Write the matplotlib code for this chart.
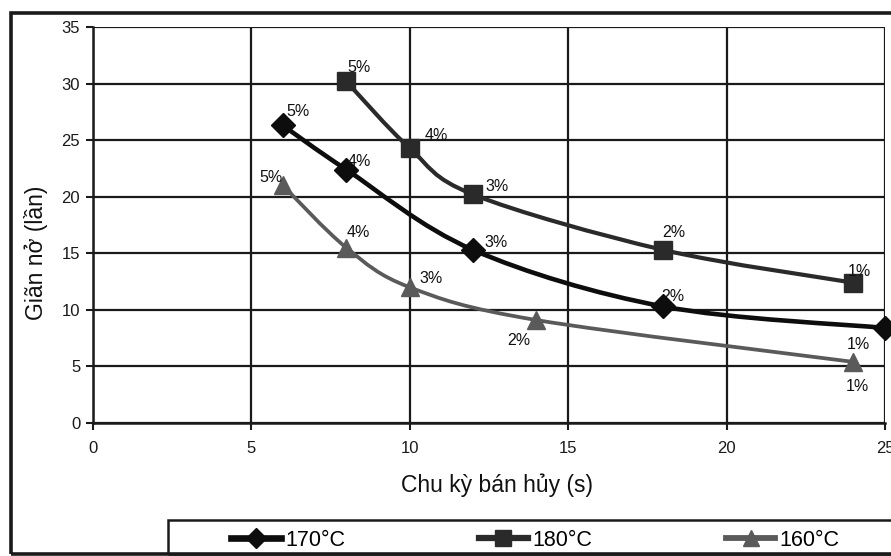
import matplotlib
matplotlib.use('Agg')
import matplotlib.pyplot as plt
import numpy as np
from matplotlib.path import Path
from matplotlib.patches import PathPatch, Rectangle
from matplotlib.lines import Line2D

plt.rcParams['font.family'] = ['Liberation Sans', 'DejaVu Sans']

# du lieu doc tu hinh
x_170 = [6, 8, 12, 18, 25]
y_170 = [26.3, 22.4, 15.3, 10.3, 8.4]
x_180 = [8, 10, 12, 18, 24]
y_180 = [30.2, 24.3, 20.2, 15.3, 12.4]
x_160 = [6, 8, 10, 14, 24]
y_160 = [21.0, 15.5, 12.0, 9.1, 5.4]
pct_labels = ['5%', '4%', '3%', '2%', '1%']
series_names = ['170°C', '180°C', '160°C']

# vi tri nhan (pixel) so voi diem
off_170 = [(15, 14), (13, 8), (23, 7), (10, 10), (-27, -17)]
off_180 = [(13, 14), (27, 13), (24, 8), (11, 17), (6, 11)]
off_160 = [(-12, 8), (12, 15), (21, 9), (-18, -20), (4, -25)]


def smooth_path(xs, ys):
    # duong cong Catmull-Rom qua cac diem (kieu "smooth line" cua Excel)
    p = np.column_stack([xs, ys]).astype(float)
    pts = np.vstack([p[0], p, p[-1]])
    verts = [tuple(p[0])]
    codes = [Path.MOVETO]
    for i in range(1, len(pts) - 2):
        c1 = pts[i] + (pts[i + 1] - pts[i - 1]) / 6.0
        c2 = pts[i + 1] - (pts[i + 2] - pts[i]) / 6.0
        verts += [tuple(c1), tuple(c2), tuple(pts[i + 1])]
        codes += [Path.CURVE4] * 3
    return Path(verts, codes)


fig = plt.figure(figsize=(8.91, 5.56), dpi=100)
ax = fig.add_axes([92.7 / 891, 1 - 423 / 556, (885 - 92.7) / 891, (423 - 27) / 556])

series = [
    (x_170, y_170, 'D', 12, '#0d0d0d', 3.3, off_170),
    (x_180, y_180, 's', 13, '#2a2a2a', 3.0, off_180),
    (x_160, y_160, '^', 13, '#5a5a5a', 2.7, off_160),
]
handles = []
for (xs, ys, mk, ms, col, lw, offs), name in zip(series, series_names):
    ax.add_patch(PathPatch(smooth_path(xs, ys), facecolor='none', edgecolor=col,
                           lw=lw, zorder=3, clip_on=False))
    ax.plot(xs, ys, linestyle='none', marker=mk, markersize=ms, color=col,
            zorder=4, clip_on=False)
    for xv, yv, lab, (dx, dy) in zip(xs, ys, pct_labels, offs):
        ax.annotate(lab, (xv, yv), xytext=(dx, dy), textcoords='offset pixels',
                    ha='center', va='center', fontsize=11.5, color='#111111', zorder=5)
    handles.append(Line2D([], [], color=col, lw=lw + 1.5, marker=mk, markersize=ms - 2))

ax.set_xlim(0, 25)
ax.set_ylim(0, 35)
ax.set_xticks(np.arange(0, 26, 5))
ax.set_yticks(np.arange(0, 36, 5))
ax.grid(True, color='#1a1a1a', lw=1.6)
ax.set_axisbelow(True)
for s in ['top', 'right']:
    ax.spines[s].set_visible(False)
for s in ['left', 'bottom']:
    ax.spines[s].set_linewidth(1.8)
    ax.spines[s].set_color('#1a1a1a')
ax.tick_params(axis='both', direction='out', length=5, width=1.5, labelsize=12,
               colors='#1a1a1a', pad=4)
ax.tick_params(axis='x', pad=8)
ax.set_xlabel('Chu kỳ bán hủy (s)', fontsize=16.5, color='#111111')
ax.set_ylabel('Giãn nở (lần)', fontsize=16.5, color='#111111')
ax.xaxis.set_label_coords(0.51, -0.128)
ax.yaxis.set_label_coords(-0.056, 0.43)

# khung bieu do va khung chu thich
fig.add_artist(Rectangle((11 / 891, 1 - 554 / 556), 1.1, (554 - 13) / 556,
                         transform=fig.transFigure, fill=False, lw=2.6,
                         edgecolor='#1a1a1a'))
fig.add_artist(Rectangle((168 / 891, 1 - 554 / 556), 1.0, (554 - 520) / 556,
                         transform=fig.transFigure, fill=False, lw=1.8,
                         edgecolor='#1a1a1a'))
fig.legend(handles, series_names, loc='center left', ncol=3, frameon=False,
           bbox_to_anchor=(212 / 891, 1 - 540 / 556), fontsize=15.5,
           handlelength=2.3, handletextpad=0.2, columnspacing=6.2, numpoints=1)

fig.savefig('out.png', dpi=100)
